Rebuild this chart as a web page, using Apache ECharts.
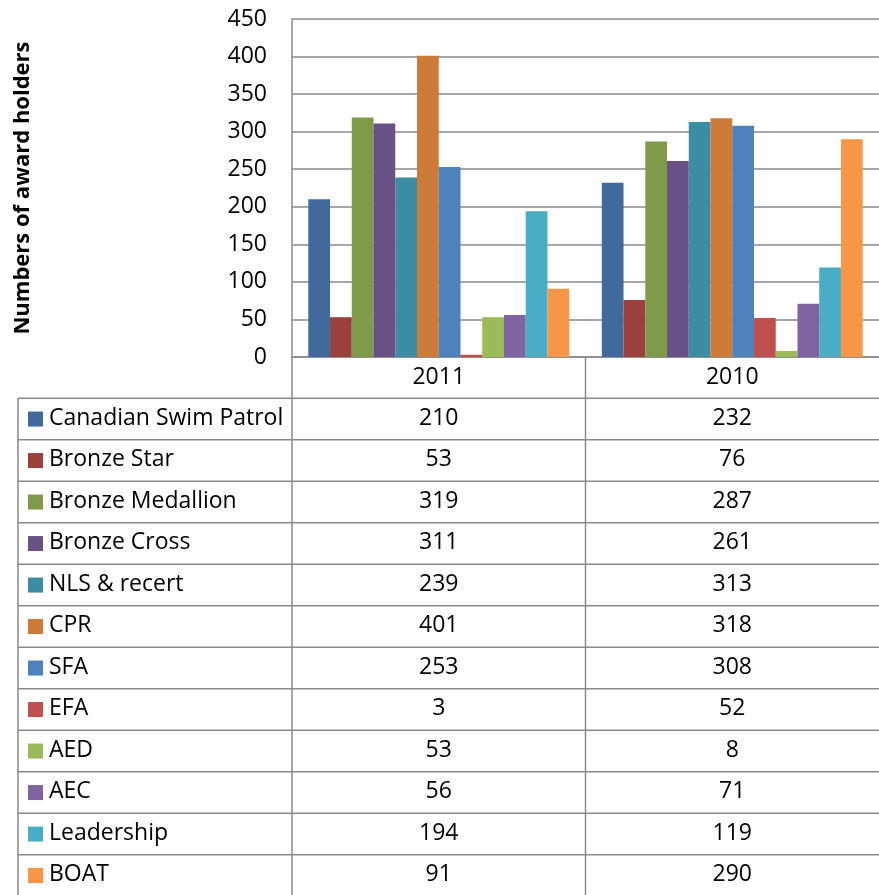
<!DOCTYPE html>
<html>
<head>
<meta charset="utf-8">
<script src="https://cdn.jsdelivr.net/npm/echarts@6/dist/echarts.min.js"></script>
<style>
html,body{margin:0;padding:0;background:#fff;}
#main{width:879px;height:895px;}
</style>
</head>
<body>
<div id="main"></div>
<script>
const categories = ['2011', '2010'];
const awardNames = ['Canadian Swim Patrol', 'Bronze Star', 'Bronze Medallion', 'Bronze Cross', 'NLS & recert', 'CPR', 'SFA', 'EFA', 'AED', 'AEC', 'Leadership', 'BOAT'];
const values2011 = [210, 53, 319, 311, 239, 401, 253, 3, 53, 56, 194, 91];
const values2010 = [232, 76, 287, 261, 313, 318, 308, 52, 8, 71, 119, 290];
const yTicks = [0, 50, 100, 150, 200, 250, 300, 350, 400, 450];
const colors = ['#3F6A9B', '#9C403D', '#7F9A48', '#695185', '#3C8DA3', '#CC7B38', '#4F81BD', '#C0504D', '#9BBB59', '#8064A2', '#4BACC6', '#F79646'];

const FONT = 'Open Sans';
const FS = 23;
const LINE = '#8a8a8a';
const LW = 1.5;

const chart = echarts.init(document.getElementById('main'));

const series = awardNames.map((name, i) => ({
  name: name,
  type: 'bar',
  data: [values2011[i], values2010[i]],
  barGap: '0%',
  barCategoryGap: '11.1%',
  itemStyle: { color: colors[i] }
}));

chart.setOption({
  animation: false,
  color: colors,
  grid: { left: 292, right: 0, top: 19, bottom: 538, containLabel: false, outerBoundsMode: 'none' },
  xAxis: {
    type: 'category',
    data: categories,
    axisLine: { show: true, lineStyle: { color: LINE, width: LW } },
    axisTick: { show: false },
    axisLabel: { fontFamily: FONT, fontSize: FS, color: '#000', margin: 9 }
  },
  yAxis: {
    type: 'value',
    min: yTicks[0],
    max: yTicks[yTicks.length - 1],
    interval: yTicks[1] - yTicks[0],
    name: 'Numbers of award holders',
    nameLocation: 'middle',
    nameRotate: 90,
    nameGap: 258,
    nameTextStyle: { fontFamily: FONT, fontSize: 22, fontWeight: 'bold', color: '#000' },
    axisLine: { show: true, lineStyle: { color: LINE, width: LW } },
    axisTick: { show: false },
    axisLabel: { fontFamily: FONT, fontSize: FS, color: '#000', margin: 25 },
    splitLine: { show: true, lineStyle: { color: LINE, width: LW } }
  },
  series: series
});

// Data table built from the same arrays, positioned from the chart's own axes
const centers = categories.map(c => chart.convertToPixel({ xAxisIndex: 0 }, c));
const band = centers[1] - centers[0];
const boundaries = [centers[0] - band / 2, centers[0] + band / 2, centers[1] + band / 2];
const yZero = chart.convertToPixel({ yAxisIndex: 0 }, 0);
const tableLeft = 18;
const headerH = 41.3;
const rowH = 41.5;
const tableTop = yZero + headerH;
const tableBottom = tableTop + rowH * awardNames.length;
const graphics = [];
const lineStyle = { stroke: LINE, lineWidth: LW };

graphics.push({ type: 'line', shape: { x1: boundaries[0], y1: yZero, x2: boundaries[0], y2: tableBottom }, style: lineStyle, silent: true });
graphics.push({ type: 'line', shape: { x1: boundaries[1], y1: yZero, x2: boundaries[1], y2: tableBottom }, style: lineStyle, silent: true });
graphics.push({ type: 'line', shape: { x1: tableLeft, y1: tableTop, x2: tableLeft, y2: tableBottom }, style: lineStyle, silent: true });
for (let r = 0; r <= awardNames.length; r++) {
  const y = tableTop + r * rowH;
  graphics.push({ type: 'line', shape: { x1: tableLeft, y1: y, x2: boundaries[2], y2: y }, style: lineStyle, silent: true });
}
awardNames.forEach((name, i) => {
  const cy = tableTop + (i + 0.5) * rowH;
  graphics.push({ type: 'rect', shape: { x: 28, y: cy - 7.5, width: 15, height: 15 }, style: { fill: colors[i] }, silent: true });
  graphics.push({ type: 'text', x: 49, y: cy - 1, style: { text: name, font: FS + 'px "' + FONT + '"', fill: '#000', textAlign: 'left', textVerticalAlign: 'middle' }, silent: true });
  [values2011[i], values2010[i]].forEach((v, j) => {
    graphics.push({ type: 'text', x: centers[j], y: cy - 1, style: { text: String(v), font: FS + 'px "' + FONT + '"', fill: '#000', textAlign: 'center', textVerticalAlign: 'middle' }, silent: true });
  });
});

chart.setOption({ graphic: { elements: graphics } });
</script>
</body>
</html>
